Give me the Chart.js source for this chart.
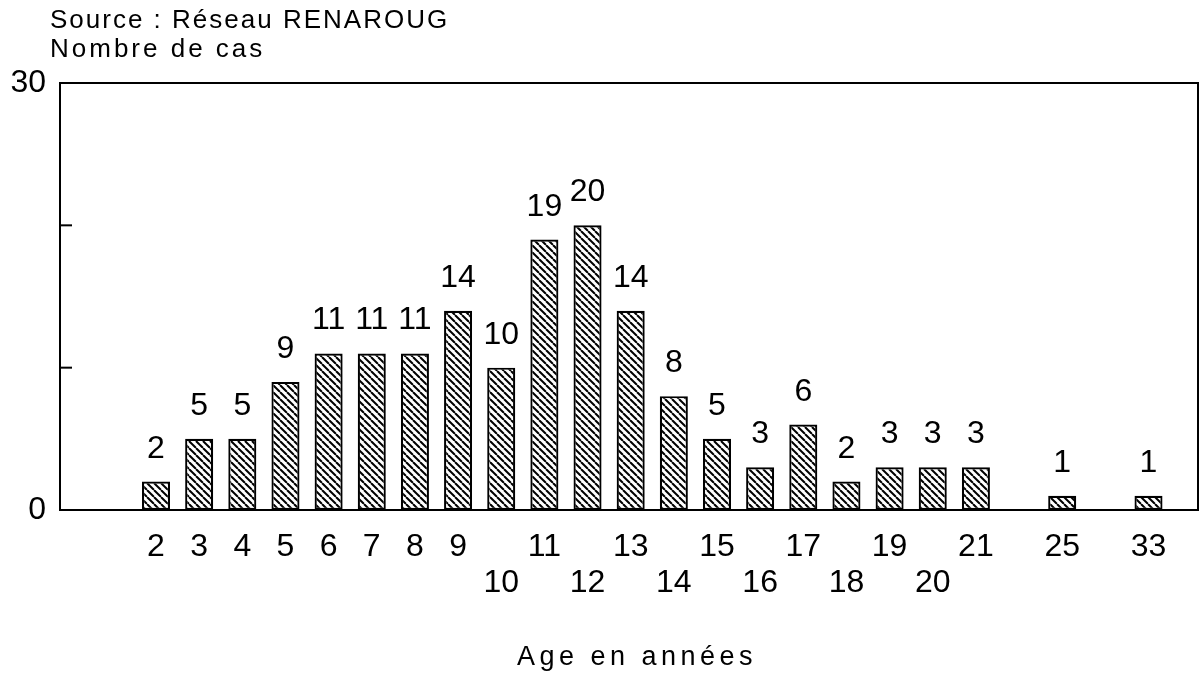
<!DOCTYPE html>
<html>
<head>
<meta charset="utf-8">
<script src="https://cdn.jsdelivr.net/npm/chart.js@4/dist/chart.umd.min.js"></script>
<style>
  html, body { margin: 0; padding: 0; background: #fff; }
  #wrap { width: 1202px; height: 681px; position: relative; }
</style>
</head>
<body>
<div id="wrap"><canvas id="c" width="1202" height="681"></canvas></div>
<script>
// ---- data ----
const categories = ['2','3','4','5','6','7','8','9','10','11','12','13','14','15','16','17','18','19','20','21','','25','','33'];
const cases      = [2, 5, 5, 9, 11, 11, 11, 14, 10, 19, 20, 14, 8, 5, 3, 6, 2, 3, 3, 3, null, 1, null, 1];
const yTickLabels = { 0: '0', 30: '30' };
const lowerRowLabels = ['10','12','14','16','18','20'];
const sourceText = 'Source : Réseau RENAROUG';
const yTitle = 'Nombre de cas';
const xTitle = 'Age en années';

// ---- hatch pattern ----
function hatch() {
  const s = 7;
  const c = document.createElement('canvas');
  c.width = s; c.height = s;
  const g = c.getContext('2d');
  g.fillStyle = '#fff'; g.fillRect(0, 0, s, s);
  g.strokeStyle = '#000'; g.lineWidth = 2;
  for (const o of [-s, 0, s]) {
    g.beginPath(); g.moveTo(o, 0); g.lineTo(o + s, s); g.stroke();
  }
  return g.createPattern(c, 'repeat');
}

const points = [];
categories.forEach((lab, i) => { if (lab !== '' && cases[i] != null) points.push({ x: i, y: cases[i] }); });

const FONT = "'Liberation Sans', 'DejaVu Sans', sans-serif";

const decor = {
  id: 'decor',
  afterDatasetsDraw(chart) {
    const { ctx, chartArea: a, scales } = chart;
    ctx.save();
    // box
    ctx.strokeStyle = '#000'; ctx.lineWidth = 2;
    ctx.strokeRect(a.left, a.top, a.right - a.left, a.bottom - a.top);
    // inner ticks on y axis
    [10, 20].forEach(v => {
      const y = scales.y.getPixelForValue(v);
      ctx.beginPath(); ctx.moveTo(a.left, y); ctx.lineTo(a.left + 12, y); ctx.stroke();
    });
    // value labels
    ctx.fillStyle = '#000';
    ctx.font = '32px ' + FONT;
    ctx.textAlign = 'center'; ctx.textBaseline = 'alphabetic';
    const meta = chart.getDatasetMeta(0);
    meta.data.forEach((bar, i) => {
      const v = chart.data.datasets[0].data[i].y;
      ctx.fillText(String(v), bar.x, bar.y - 24);
    });
    // header texts
    ctx.textAlign = 'left';
    ctx.font = '26px ' + FONT;
    ctx.letterSpacing = '2px';
    ctx.fillText(sourceText, 50, 28);
    ctx.letterSpacing = '3px';
    ctx.fillText(yTitle, 50, 57);
    // x title
    ctx.font = '27px ' + FONT;
    ctx.letterSpacing = '4.5px';
    ctx.textAlign = 'center';
    ctx.fillText(xTitle, 637, 665);
    ctx.restore();
  }
};

new Chart(document.getElementById('c'), {
  type: 'bar',
  data: {
    datasets: [{
      data: points,
      backgroundColor: hatch(),
      borderColor: '#000',
      borderWidth: 2.2,
      borderSkipped: false,
      barPercentage: 0.65,
      categoryPercentage: 1
    }]
  },
  options: {
    responsive: false,
    animation: false,
    layout: { padding: { top: 83, right: 4, left: 0, bottom: 0 } },
    plugins: { legend: { display: false }, tooltip: { enabled: false }, title: { display: false } },
    scales: {
      x: {
        type: 'linear',
        offset: false,
        min: -2.225,
        max: 24.147,
        grid: { display: false, drawTicks: false, offset: false },
        border: { display: false },
        afterBuildTicks(scale) {
          scale.ticks = categories.map((l, i) => ({ value: i })).filter(t => categories[t.value] !== '');
        },
        afterFit(scale) { scale.height = 171; },
        ticks: {
          autoSkip: false,
          maxRotation: 0,
          padding: 20,
          color: '#000',
          font: { family: FONT, size: 32, lineHeight: 1.1 },
          callback(value) {
            const lab = categories[value] || '';
            return lowerRowLabels.includes(lab) ? ['', lab] : lab;
          }
        }
      },
      y: {
        min: 0, max: 30,
        grid: { display: false, drawTicks: false },
        border: { display: false },
        afterFit(scale) { scale.width = 60; },
        afterBuildTicks(scale) { scale.ticks = [0, 10, 20, 30].map(v => ({ value: v })); },
        ticks: {
          padding: 14,
          color: '#000',
          font: { family: FONT, size: 32 },
          callback(v) { return yTickLabels[v] !== undefined ? yTickLabels[v] : ''; }
        }
      }
    }
  },
  plugins: [decor]
});
</script>
</body>
</html>
